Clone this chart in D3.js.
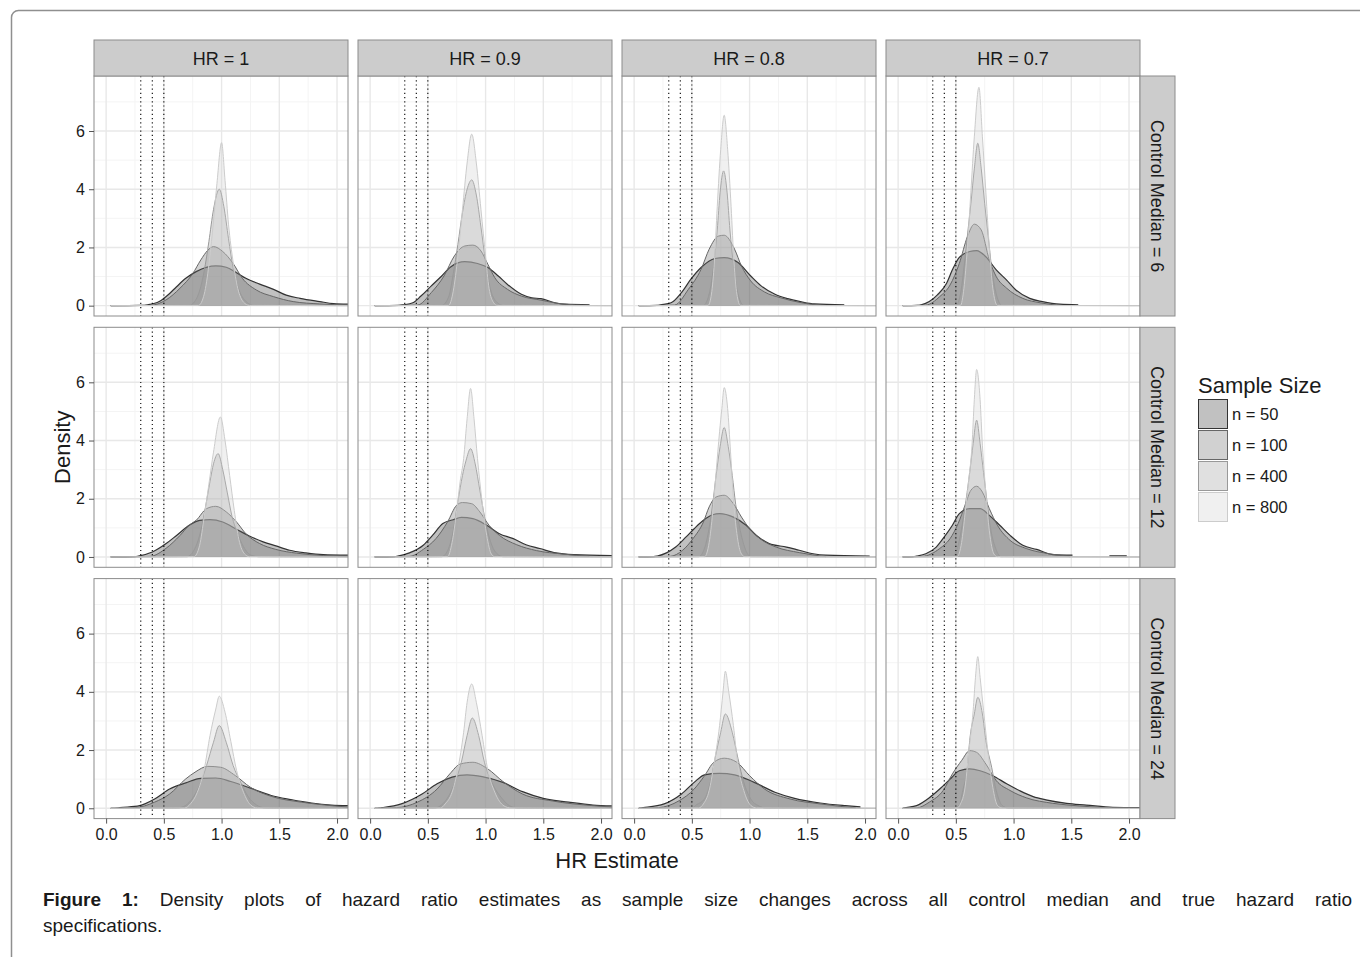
<!doctype html>
<html>
<head>
<meta http-equiv="Content-type" content="text/html; charset=utf-8"/>
<script src="https://d3js.org/d3.v7.min.js"></script>
<style>
    body { margin: 0; background: #fff; font-family: "Liberation Sans", Arial, Helvetica, sans-serif; }
    #wrap { position: relative; width: 1360px; height: 957px; overflow: hidden; }
    #caption { position: absolute; left: 43px; top: 887px; width: 1309px; font-size: 19px; line-height: 26px; color: #1a1a1a; }
    #caption .l1 { text-align: justify; text-align-last: justify; }
</style>
</head>
<body>
<div id="wrap">
    <svg id="chart" width="1360" height="957"></svg>
    <div id="caption"></div>
</div>
<script>
    // facet labels, legend, ticks
    var hrLabels = ["HR = 1", "HR = 0.9", "HR = 0.8", "HR = 0.7"];
    var medianLabels = ["Control Median = 6", "Control Median = 12", "Control Median = 24"];
    var sizeLabels = ["n = 50", "n = 100", "n = 400", "n = 800"];
    var xTicks = [0, 0.5, 1, 1.5, 2];
    var xMinor = [0.25, 0.75, 1.25, 1.75];
    var yTicks = [0, 2, 4, 6];
    var yMinor = [1, 3, 5, 7];
    var refLines = [0.3, 0.4, 0.5];

    // density curves, [HR estimate, density]; order n=50, 100, 400, 800
    var med6_hr1 = [
        [[0.04,0],[0.3,0.01],[0.36,0.03],[0.46,0.14],[0.55,0.42],[0.61,0.65],[0.69,0.94],[0.78,1.17],[0.87,1.32],[0.95,1.37],[1.04,1.32],[1.13,1.13],[1.21,0.94],[1.33,0.74],[1.45,0.56],[1.56,0.36],[1.68,0.25],[1.85,0.14],[1.97,0.07],[2.1,0.05]],
        [[0.04,0],[0.38,0.01],[0.52,0.2],[0.64,0.6],[0.75,1.1],[0.82,1.57],[0.88,1.9],[0.93,2.03],[1.01,1.86],[1.1,1.45],[1.18,0.94],[1.3,0.54],[1.45,0.31],[1.62,0.14],[1.85,0.06],[2.1,0.02]],
        [[0.04,0],[0.72,0.01],[0.79,0.3],[0.85,1.2],[0.89,2.2],[0.93,3.3],[0.98,4.0],[1.02,3.4],[1.06,2.3],[1.1,1.3],[1.15,0.55],[1.21,0.15],[1.28,0.01],[2.1,0]],
        [[0.04,0],[0.8,0.01],[0.85,0.4],[0.89,1.4],[0.92,2.5],[0.96,4.2],[1.0,5.6],[1.03,4.3],[1.06,2.8],[1.1,1.5],[1.14,0.6],[1.19,0.12],[1.24,0.01],[2.1,0]]
    ];
    var med6_hr09 = [
        [[0.04,0],[0.25,0.01],[0.29,0.03],[0.37,0.1],[0.44,0.33],[0.53,0.68],[0.62,1.02],[0.7,1.34],[0.82,1.51],[0.93,1.45],[1.02,1.31],[1.11,1.02],[1.19,0.73],[1.31,0.39],[1.4,0.27],[1.48,0.24],[1.6,0.1],[1.68,0.05],[1.9,0.03]],
        [[0.04,0],[0.41,0.02],[0.53,0.45],[0.64,1.02],[0.73,1.71],[0.82,2.05],[0.89,2.08],[0.96,1.88],[1.02,1.42],[1.08,0.96],[1.19,0.56],[1.31,0.33],[1.48,0.19],[1.66,0.06],[1.9,0.01]],
        [[0.04,0],[0.62,0.01],[0.68,0.3],[0.72,1.1],[0.76,2.1],[0.8,3.2],[0.84,4.0],[0.88,4.32],[0.92,3.8],[0.96,2.7],[1.0,1.5],[1.04,0.6],[1.09,0.15],[1.15,0.01],[2.1,0]],
        [[0.04,0],[0.68,0.01],[0.72,0.5],[0.76,1.7],[0.8,3.3],[0.84,4.9],[0.88,5.89],[0.92,4.9],[0.96,3.3],[1.0,1.7],[1.03,0.6],[1.07,0.1],[1.1,0.01],[2.1,0]]
    ];
    var med6_hr08 = [
        [[0.04,0],[0.2,0.01],[0.23,0.03],[0.32,0.1],[0.41,0.45],[0.49,0.9],[0.58,1.31],[0.7,1.62],[0.78,1.65],[0.9,1.48],[1.01,1.02],[1.1,0.68],[1.22,0.39],[1.33,0.24],[1.45,0.13],[1.56,0.06],[1.82,0.03]],
        [[0.04,0],[0.35,0.02],[0.47,0.56],[0.58,1.25],[0.65,1.94],[0.73,2.39],[0.78,2.42],[0.87,1.94],[0.93,1.36],[1.01,0.85],[1.13,0.47],[1.27,0.27],[1.45,0.1],[1.62,0.01]],
        [[0.04,0],[0.6,0.01],[0.65,0.4],[0.69,1.4],[0.72,2.6],[0.745,3.9],[0.775,4.63],[0.805,3.9],[0.83,2.6],[0.86,1.4],[0.9,0.4],[0.95,0.01],[2.1,0]],
        [[0.04,0],[0.64,0.01],[0.67,0.4],[0.695,1.5],[0.72,3.4],[0.75,5.37],[0.78,6.54],[0.81,5.37],[0.84,3.4],[0.865,1.5],[0.89,0.4],[0.92,0.01],[2.1,0]]
    ];
    var med6_hr07 = [
        [[0.04,0],[0.17,0.01],[0.2,0.03],[0.27,0.14],[0.34,0.37],[0.42,0.77],[0.47,1.23],[0.53,1.66],[0.62,1.86],[0.68,1.89],[0.76,1.68],[0.85,1.23],[0.94,0.88],[1.02,0.54],[1.14,0.25],[1.25,0.14],[1.4,0.05],[1.56,0.03]],
        [[0.04,0],[0.24,0.02],[0.36,0.31],[0.45,0.71],[0.53,1.45],[0.6,2.37],[0.66,2.8],[0.72,2.6],[0.79,1.57],[0.85,1.0],[0.94,0.6],[1.08,0.25],[1.23,0.1],[1.37,0.02]],
        [[0.04,0],[0.5,0.01],[0.54,0.4],[0.57,1.3],[0.6,2.4],[0.63,3.5],[0.66,4.7],[0.69,5.58],[0.72,4.7],[0.75,3.5],[0.78,2.4],[0.81,1.3],[0.85,0.4],[0.9,0.01],[2.1,0]],
        [[0.04,0],[0.54,0.01],[0.57,0.6],[0.6,2.0],[0.63,3.9],[0.66,5.8],[0.7,7.5],[0.73,5.8],[0.76,3.9],[0.79,2.0],[0.82,0.6],[0.86,0.01],[2.1,0]]
    ];
    var med12_hr1 = [
        [[0.04,0],[0.25,0.01],[0.28,0.03],[0.4,0.17],[0.52,0.46],[0.61,0.74],[0.72,1.09],[0.81,1.26],[0.9,1.28],[1.01,1.2],[1.13,0.95],[1.24,0.72],[1.36,0.52],[1.47,0.38],[1.59,0.23],[1.73,0.14],[1.88,0.08],[2.1,0.06]],
        [[0.04,0],[0.38,0.02],[0.52,0.3],[0.64,0.74],[0.72,1.09],[0.78,1.26],[0.87,1.66],[0.95,1.74],[1.04,1.55],[1.13,1.2],[1.21,0.8],[1.33,0.46],[1.47,0.26],[1.65,0.13],[1.88,0.05],[2.1,0.02]],
        [[0.04,0],[0.7,0.01],[0.77,0.3],[0.82,0.9],[0.86,1.7],[0.9,2.6],[0.93,3.2],[0.97,3.55],[1.01,3.0],[1.05,2.2],[1.09,1.4],[1.14,0.8],[1.19,0.35],[1.26,0.05],[1.32,0.01],[2.1,0]],
        [[0.04,0],[0.76,0.01],[0.81,0.4],[0.85,1.4],[0.89,2.5],[0.93,3.6],[0.99,4.81],[1.03,4.0],[1.07,2.8],[1.11,1.6],[1.15,0.6],[1.2,0.1],[1.24,0.01],[2.1,0]]
    ];
    var med12_hr09 = [
        [[0.04,0],[0.21,0.01],[0.24,0.03],[0.34,0.14],[0.46,0.4],[0.54,0.74],[0.63,1.15],[0.72,1.28],[0.79,1.36],[0.89,1.32],[1.01,1.09],[1.12,0.8],[1.24,0.63],[1.35,0.42],[1.47,0.29],[1.61,0.14],[1.76,0.08],[2.1,0.05]],
        [[0.04,0],[0.34,0.02],[0.46,0.26],[0.57,0.63],[0.67,1.2],[0.75,1.78],[0.8,1.87],[0.88,1.83],[0.95,1.55],[1.03,1.09],[1.12,0.74],[1.27,0.42],[1.44,0.22],[1.67,0.1],[1.9,0.02]],
        [[0.04,0],[0.62,0.01],[0.68,0.3],[0.72,0.9],[0.76,1.9],[0.8,2.8],[0.83,3.3],[0.87,3.72],[0.91,3.2],[0.95,2.3],[0.99,1.4],[1.03,0.7],[1.08,0.2],[1.15,0.01],[2.1,0]],
        [[0.04,0],[0.67,0.01],[0.71,0.5],[0.75,1.6],[0.78,2.6],[0.81,3.38],[0.84,4.75],[0.87,5.79],[0.9,4.75],[0.93,3.38],[0.97,1.89],[1.01,0.74],[1.05,0.1],[1.08,0.01],[2.1,0]]
    ];
    var med12_hr08 = [
        [[0.04,0],[0.17,0.01],[0.2,0.03],[0.28,0.14],[0.36,0.34],[0.45,0.69],[0.52,0.97],[0.6,1.26],[0.68,1.45],[0.74,1.49],[0.86,1.37],[0.97,1.09],[1.06,0.74],[1.17,0.46],[1.32,0.34],[1.43,0.23],[1.55,0.11],[1.66,0.06],[2.04,0.03]],
        [[0.04,0],[0.31,0.02],[0.42,0.23],[0.51,0.63],[0.6,1.2],[0.65,1.72],[0.71,2.06],[0.78,2.12],[0.86,1.83],[0.93,1.37],[1.0,0.97],[1.09,0.63],[1.23,0.34],[1.43,0.15],[1.66,0.01]],
        [[0.04,0],[0.56,0.01],[0.61,0.3],[0.65,1.0],[0.68,1.8],[0.71,2.8],[0.745,3.8],[0.78,4.45],[0.815,3.8],[0.85,2.8],[0.88,1.8],[0.92,0.9],[0.96,0.3],[1.01,0.01],[2.1,0]],
        [[0.04,0],[0.61,0.01],[0.65,0.5],[0.68,1.5],[0.71,2.9],[0.74,4.3],[0.76,5.1],[0.78,5.82],[0.81,5.1],[0.835,3.61],[0.86,2.0],[0.89,0.8],[0.93,0.1],[0.96,0.01],[2.1,0]]
    ];
    var med12_hr07 = [
        [[0.04,0],[0.13,0.01],[0.16,0.03],[0.24,0.11],[0.33,0.34],[0.4,0.69],[0.47,1.09],[0.53,1.49],[0.62,1.66],[0.71,1.66],[0.79,1.43],[0.88,1.09],[0.97,0.74],[1.08,0.4],[1.2,0.26],[1.34,0.08],[1.51,0.06]],
        [[0.04,0],[0.21,0.02],[0.36,0.29],[0.45,0.63],[0.52,1.15],[0.58,1.78],[0.63,2.29],[0.68,2.43],[0.73,2.23],[0.79,1.66],[0.86,1.09],[0.97,0.57],[1.11,0.29],[1.31,0.11],[1.49,0.01]],
        [[0.04,0],[0.47,0.01],[0.52,0.4],[0.555,1.1],[0.59,2.0],[0.62,2.9],[0.65,3.9],[0.68,4.7],[0.71,3.9],[0.74,2.9],[0.77,1.9],[0.8,1.0],[0.84,0.35],[0.89,0.01],[2.1,0]],
        [[0.04,0],[0.51,0.01],[0.55,0.5],[0.58,1.5],[0.61,2.6],[0.64,3.84],[0.66,5.41],[0.68,6.44],[0.71,5.41],[0.73,3.84],[0.76,2.2],[0.79,0.9],[0.83,0.1],[0.86,0.01],[2.1,0]]
    ];
    var med12_hr07_tail = [[1.83,0.04],[1.98,0.04]];
    var med24_hr1 = [
        [[0.04,0],[0.1,0.01],[0.12,0.02],[0.29,0.09],[0.42,0.32],[0.55,0.66],[0.69,0.87],[0.82,1.03],[0.95,1.04],[1.08,0.92],[1.25,0.69],[1.43,0.44],[1.6,0.3],[1.78,0.18],[1.95,0.11],[2.1,0.09]],
        [[0.04,0],[0.25,0.02],[0.42,0.21],[0.55,0.49],[0.69,1.01],[0.77,1.24],[0.88,1.44],[0.99,1.41],[1.12,1.12],[1.25,0.72],[1.43,0.41],[1.69,0.21],[1.95,0.09],[2.1,0.04]],
        [[0.04,0],[0.62,0.01],[0.69,0.1],[0.75,0.35],[0.82,0.89],[0.87,1.47],[0.93,2.27],[0.98,2.84],[1.04,2.27],[1.1,1.47],[1.17,0.85],[1.23,0.4],[1.3,0.12],[1.38,0.01],[2.1,0]],
        [[0.04,0],[0.68,0.01],[0.73,0.15],[0.79,0.55],[0.85,1.35],[0.9,2.5],[0.95,3.41],[0.98,3.85],[1.03,3.3],[1.08,2.3],[1.13,1.3],[1.19,0.55],[1.25,0.12],[1.31,0.01],[2.1,0]]
    ];
    var med24_hr09 = [
        [[0.04,0],[0.08,0.01],[0.1,0.02],[0.27,0.15],[0.45,0.49],[0.58,0.84],[0.71,1.07],[0.84,1.15],[0.97,1.09],[1.15,0.89],[1.32,0.57],[1.5,0.34],[1.72,0.21],[1.93,0.11],[2.1,0.08]],
        [[0.04,0],[0.23,0.02],[0.41,0.21],[0.58,0.66],[0.69,1.18],[0.78,1.52],[0.89,1.58],[1.02,1.35],[1.15,0.92],[1.32,0.49],[1.58,0.25],[1.93,0.09],[2.1,0.04]],
        [[0.04,0],[0.56,0.01],[0.62,0.12],[0.67,0.35],[0.73,0.84],[0.79,1.58],[0.84,2.5],[0.885,3.1],[0.94,2.5],[0.99,1.58],[1.06,0.84],[1.14,0.35],[1.21,0.08],[1.28,0.01],[2.1,0]],
        [[0.04,0],[0.61,0.01],[0.65,0.15],[0.71,0.55],[0.76,1.35],[0.81,2.61],[0.84,3.64],[0.88,4.27],[0.92,3.64],[0.97,2.5],[1.02,1.3],[1.08,0.55],[1.16,0.08],[1.22,0.01],[2.1,0]]
    ];
    var med24_hr08 = [
        [[0.04,0],[0.06,0.01],[0.08,0.02],[0.26,0.15],[0.41,0.49],[0.52,0.89],[0.61,1.15],[0.74,1.2],[0.87,1.15],[1.04,0.89],[1.22,0.55],[1.39,0.34],[1.61,0.18],[1.83,0.09],[1.96,0.05]],
        [[0.04,0],[0.21,0.02],[0.39,0.26],[0.52,0.66],[0.61,1.12],[0.69,1.58],[0.78,1.72],[0.89,1.58],[1.0,1.12],[1.13,0.66],[1.35,0.32],[1.61,0.15],[1.92,0.01]],
        [[0.04,0],[0.5,0.01],[0.54,0.12],[0.61,0.32],[0.66,0.89],[0.7,1.7],[0.75,2.61],[0.79,3.24],[0.85,2.61],[0.9,1.7],[0.95,0.89],[1.01,0.32],[1.08,0.08],[1.14,0.01],[2.1,0]],
        [[0.04,0],[0.56,0.01],[0.6,0.15],[0.65,0.61],[0.69,1.47],[0.74,2.84],[0.77,3.99],[0.79,4.71],[0.82,3.99],[0.86,2.84],[0.9,1.47],[0.95,0.61],[1.01,0.1],[1.06,0.01],[2.1,0]]
    ];
    var med24_hr07 = [
        [[0.04,0],[0.05,0.01],[0.16,0.09],[0.27,0.36],[0.36,0.66],[0.45,1.0],[0.53,1.29],[0.62,1.35],[0.71,1.29],[0.82,1.12],[0.94,0.84],[1.05,0.61],[1.17,0.4],[1.28,0.29],[1.46,0.17],[1.63,0.11],[1.86,0.03],[2.1,0.02]],
        [[0.04,0],[0.16,0.01],[0.27,0.21],[0.39,0.61],[0.47,1.18],[0.55,1.64],[0.62,1.98],[0.68,1.92],[0.76,1.52],[0.85,0.95],[0.97,0.61],[1.11,0.36],[1.34,0.17],[1.57,0.08],[1.83,0.01]],
        [[0.04,0],[0.47,0.01],[0.53,0.1],[0.56,0.61],[0.6,1.41],[0.62,2.33],[0.66,3.24],[0.69,3.81],[0.73,3.24],[0.76,2.33],[0.81,1.41],[0.85,0.61],[0.9,0.1],[0.95,0.01],[2.1,0]],
        [[0.04,0],[0.51,0.01],[0.54,0.15],[0.58,0.72],[0.61,1.87],[0.65,3.36],[0.67,4.5],[0.69,5.21],[0.71,4.5],[0.74,3.36],[0.78,1.87],[0.82,0.72],[0.86,0.1],[0.9,0.01],[2.1,0]]
    ];

    var panels = [
        [med6_hr1, med6_hr09, med6_hr08, med6_hr07],
        [med12_hr1, med12_hr09, med12_hr08, med12_hr07],
        [med24_hr1, med24_hr09, med24_hr08, med24_hr07]
    ];
    // loose bits of curve drawn apart from the rest: row, col, group
    var extraPieces = [{row: 1, col: 3, group: 0, pts: med12_hr07_tail}];

    var greys = ["#333333", "#666666", "#999999", "#cccccc"];
    var lineWidths = [1.2, 1, 1, 1];
    var fillAlpha = 0.3;

    // layout
    var left0 = 94, top0 = 76, pw = 254, ph = 240, colStep = 264, rowStep = 251.3;
    var stripH = 36, stripW = 35;
    var font = "Liberation Sans, Arial, sans-serif";

    var svg = d3.select("#chart");

    // page frame
    svg.append("rect")
        .attr("x", 11.5).attr("y", 10.5)
        .attr("width", 1400).attr("height", 1000)
        .attr("rx", 7)
        .attr("fill", "none").attr("stroke", "#8f8f8f").attr("stroke-width", 1.5);

    var x = d3.scaleLinear().domain([-0.105, 2.095]).range([0, pw]);
    var y = d3.scaleLinear().domain([-0.355, 7.89]).range([ph, 0]);

    var area = d3.area()
        .x(function(d) { return x(d[0]); })
        .y0(y(0))
        .y1(function(d) { return y(d[1]); })
        .curve(d3.curveMonotoneX);
    var line = d3.line()
        .x(function(d) { return x(d[0]); })
        .y(function(d) { return y(d[1]); })
        .curve(d3.curveMonotoneX);

    var defs = svg.append("defs");
    defs.append("clipPath").attr("id", "pclip")
        .append("rect").attr("width", pw).attr("height", ph);

    panels.forEach(function(row, r) {
        row.forEach(function(curves, c) {
            var px = left0 + c * colStep, py = top0 + r * rowStep;
            var g = svg.append("g").attr("transform", "translate(" + px + "," + py + ")");

            g.append("rect").attr("width", pw).attr("height", ph).attr("fill", "#fff");

            var grid = g.append("g");
            grid.selectAll(".vmin").data(xMinor).enter().append("line")
                .attr("x1", x).attr("x2", x).attr("y1", 0).attr("y2", ph)
                .attr("stroke", "#f4f4f4").attr("stroke-width", 1);
            grid.selectAll(".hmin").data(yMinor).enter().append("line")
                .attr("x1", 0).attr("x2", pw).attr("y1", y).attr("y2", y)
                .attr("stroke", "#f4f4f4").attr("stroke-width", 1);
            grid.selectAll(".vmaj").data(xTicks).enter().append("line")
                .attr("x1", x).attr("x2", x).attr("y1", 0).attr("y2", ph)
                .attr("stroke", "#e8e8e8").attr("stroke-width", 1.4);
            grid.selectAll(".hmaj").data(yTicks).enter().append("line")
                .attr("x1", 0).attr("x2", pw).attr("y1", y).attr("y2", y)
                .attr("stroke", "#e8e8e8").attr("stroke-width", 1.4);

            var dens = g.append("g").attr("clip-path", "url(#pclip)");
            var pieces = curves.map(function(pts, i) { return {group: i, pts: pts}; });
            extraPieces.forEach(function(e) {
                if (e.row === r && e.col === c) pieces.splice(e.group + 1, 0, {group: e.group, pts: e.pts});
            });
            pieces.forEach(function(p) {
                dens.append("path").attr("d", area(p.pts))
                    .attr("fill", greys[p.group]).attr("fill-opacity", fillAlpha);
                dens.append("path").attr("d", line(p.pts))
                    .attr("fill", "none").attr("stroke", greys[p.group]).attr("stroke-width", lineWidths[p.group]);
            });

            dens.selectAll(".ref").data(refLines).enter().append("line")
                .attr("x1", x).attr("x2", x).attr("y1", 0).attr("y2", ph)
                .attr("stroke", "#000").attr("stroke-width", 1.1)
                .attr("stroke-dasharray", "1.2,3");

            g.append("rect").attr("width", pw).attr("height", ph)
                .attr("fill", "none").attr("stroke", "#8c8c8c").attr("stroke-width", 1);

            if (c === 0) {
                var ya = g.append("g").call(d3.axisLeft(y).tickValues(yTicks).tickSize(5).tickPadding(4));
                ya.select(".domain").remove();
                ya.selectAll("line").attr("stroke", "#555");
                ya.selectAll("text").attr("font-size", 16).attr("fill", "#1a1a1a").attr("font-family", font);
            }
            if (r === panels.length - 1) {
                var xa = g.append("g").attr("transform", "translate(0," + ph + ")")
                    .call(d3.axisBottom(x).tickValues(xTicks).tickFormat(d3.format(".1f")).tickSize(5).tickPadding(5));
                xa.select(".domain").remove();
                xa.selectAll("line").attr("stroke", "#555");
                xa.selectAll("text").attr("font-size", 16).attr("fill", "#1a1a1a").attr("font-family", font);
            }
        });
    });

    // column strips
    hrLabels.forEach(function(lab, c) {
        var sx = left0 + c * colStep, sy = top0 - stripH;
        svg.append("rect").attr("x", sx).attr("y", sy).attr("width", pw).attr("height", stripH)
            .attr("fill", "#cccccc").attr("stroke", "#8c8c8c").attr("stroke-width", 1);
        svg.append("text").attr("x", sx + pw / 2).attr("y", sy + stripH / 2 + 1)
            .attr("text-anchor", "middle").attr("dominant-baseline", "central")
            .attr("font-size", 18).attr("fill", "#1a1a1a").text(lab);
    });

    // row strips
    medianLabels.forEach(function(lab, r) {
        var sx = left0 + 3 * colStep + pw, sy = top0 + r * rowStep;
        svg.append("rect").attr("x", sx).attr("y", sy).attr("width", stripW).attr("height", ph)
            .attr("fill", "#cccccc").attr("stroke", "#8c8c8c").attr("stroke-width", 1);
        svg.append("text")
            .attr("transform", "translate(" + (sx + stripW / 2 - 1) + "," + (sy + ph / 2) + ") rotate(90)")
            .attr("text-anchor", "middle").attr("dominant-baseline", "central")
            .attr("font-size", 18).attr("fill", "#1a1a1a").text(lab);
    });

    // axis titles
    var plotMidX = left0 + (3 * colStep + pw) / 2;
    var plotMidY = top0 + (2 * rowStep + ph) / 2;
    svg.append("text").attr("x", plotMidX).attr("y", 868)
        .attr("text-anchor", "middle").attr("font-size", 22).attr("fill", "#1a1a1a").text("HR Estimate");
    svg.append("text").attr("transform", "translate(62," + plotMidY + ") rotate(-90)")
        .attr("text-anchor", "middle").attr("dominant-baseline", "central")
        .attr("font-size", 22).attr("fill", "#1a1a1a").text("Density");

    // legend
    var lg = svg.append("g").attr("transform", "translate(1198,0)");
    lg.append("text").attr("x", 0).attr("y", 393).attr("font-size", 22).attr("fill", "#1a1a1a").text("Sample Size");
    sizeLabels.forEach(function(lab, i) {
        var ky = 399 + i * 31;
        lg.append("rect").attr("x", 0.5).attr("y", ky + 0.5).attr("width", 29).attr("height", 29)
            .attr("fill", "#fff").attr("stroke", "#e0e0e0");
        lg.append("rect").attr("x", 0.5).attr("y", ky + 0.5).attr("width", 29).attr("height", 29)
            .attr("fill", greys[i]).attr("fill-opacity", fillAlpha)
            .attr("stroke", greys[i]).attr("stroke-width", 1);
        lg.append("text").attr("x", 34).attr("y", ky + 15)
            .attr("dominant-baseline", "central").attr("font-size", 16.5).attr("fill", "#1a1a1a").text(lab);
    });

    // caption
    var cap = d3.select("#caption");
    var l1 = cap.append("div").attr("class", "l1");
    l1.append("b").text("Figure 1:");
    l1.append("span").text(" Density plots of hazard ratio estimates as sample size changes across all control median and true hazard ratio");
    cap.append("div").text("specifications.");
</script>
</body>
</html>
